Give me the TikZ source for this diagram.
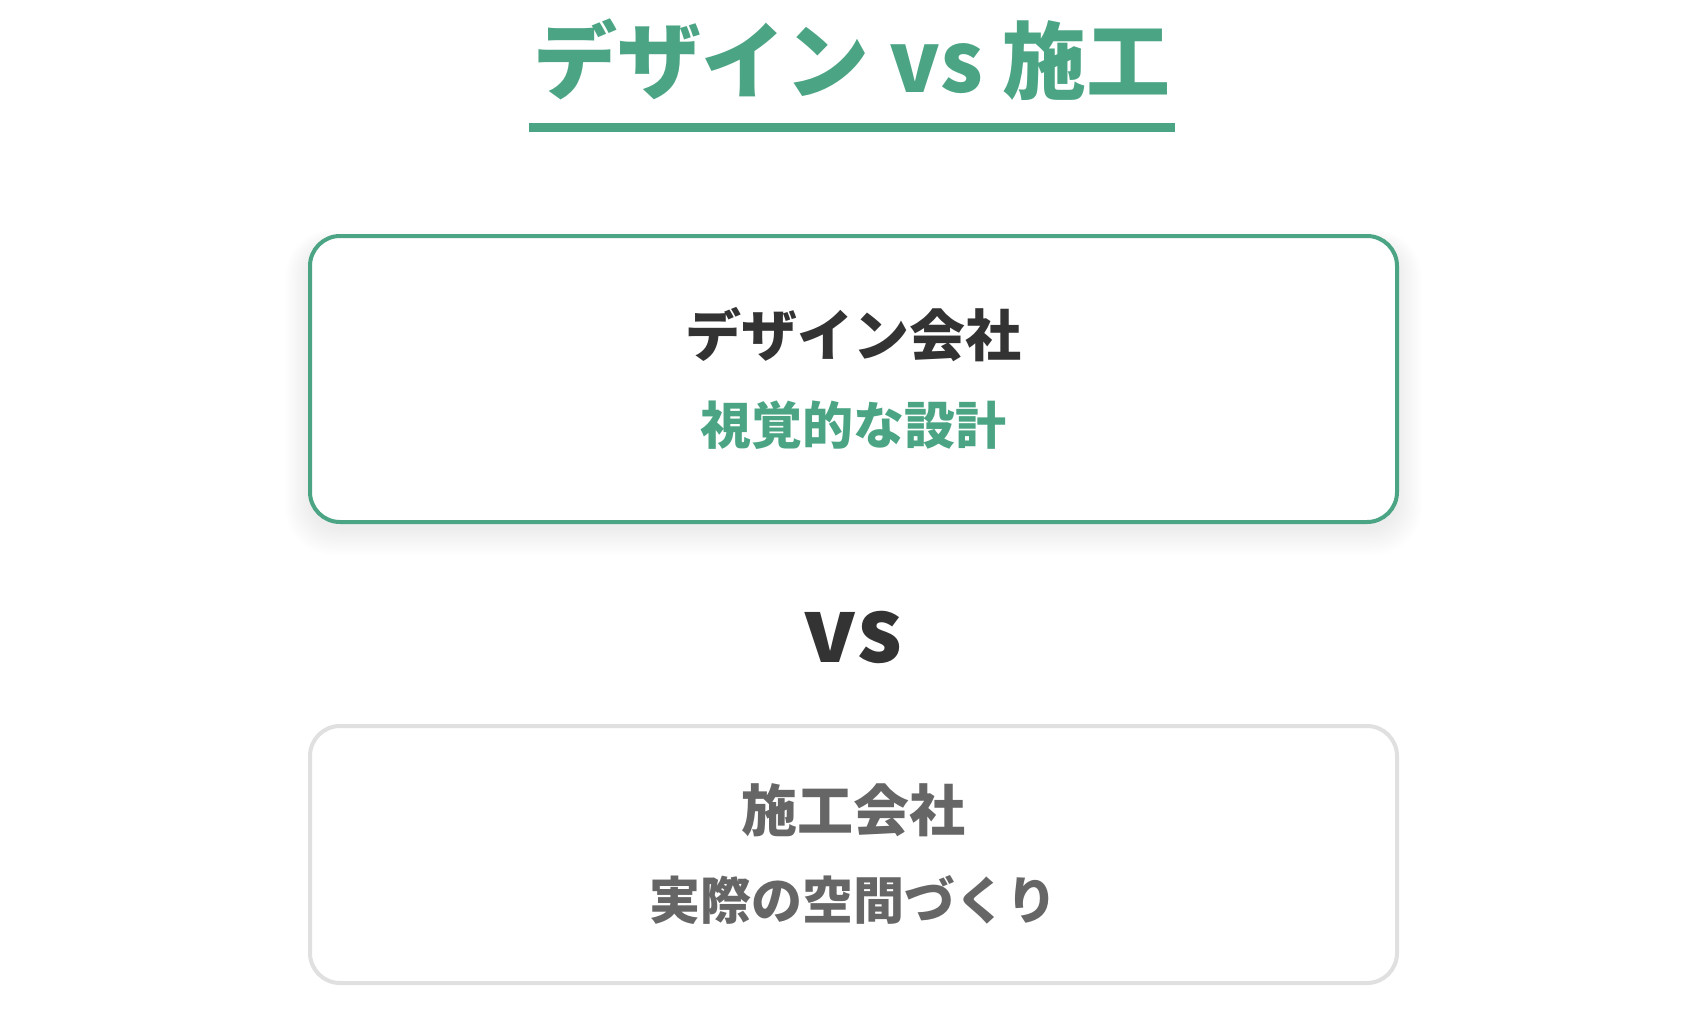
\documentclass[tikz,border=0pt]{standalone}
\usepackage{fontspec}
\newfontfamily\jp{Noto Sans CJK JP Black}
\definecolor{grn}{HTML}{4BA584}
\definecolor{dark}{HTML}{333333}
\definecolor{mid}{HTML}{666666}
\definecolor{lgray}{HTML}{E0E0E0}
\tikzset{
  card/.style={draw, line width=4pt, rounded corners=30pt, fill=white, minimum width=1087pt, inner sep=0pt},
  head/.style={font=\jp\fontsize{56}{56}\selectfont, inner sep=0pt},
  sub/.style={font=\jp\fontsize{51}{51}\selectfont, inner sep=0pt}
}
\begin{document}
\begin{tikzpicture}[x=1pt,y=-1pt]
\useasboundingbox[fill=white] (0,0) rectangle (1694,1010);
\node[font=\jp\fontsize{84}{84}\selectfont, text=grn, inner sep=0pt] (title) at (852,60) {デザイン vs 施工};
\coordinate (ul1) at (529,127);
\coordinate (ul2) at (1175,127);
\draw[grn, line width=9pt] (ul1) -- (ul2);
% soft shadow under the first card
\foreach \i in {1,...,18}{
  \fill[grn!50!gray, opacity=0.005, rounded corners=30pt+\i pt]
    (310-\i*1.4,236+8-\i*0.8) rectangle (1397+\i*1.4,522+6+\i*1.5);
}
\node[card, draw=grn, minimum height=286pt] (box1) at (853.5,379) {};
\node[head, text=dark] (t1) at (853,335) {デザイン会社};
\node[sub, text=grn] (s1) at (853,425) {視覚的な設計};
\node[font=\jp\fontsize{88}{88}\selectfont, text=dark, inner sep=0pt] (vs) at (853,637) {vs};
\node[card, draw=lgray, minimum height=257pt] (box2) at (853.5,854.5) {};
\node[head, text=mid] (t2) at (853,810) {施工会社};
\node[sub, text=mid] (s2) at (853,900) {実際の空間づくり};
\end{tikzpicture}
\end{document}
